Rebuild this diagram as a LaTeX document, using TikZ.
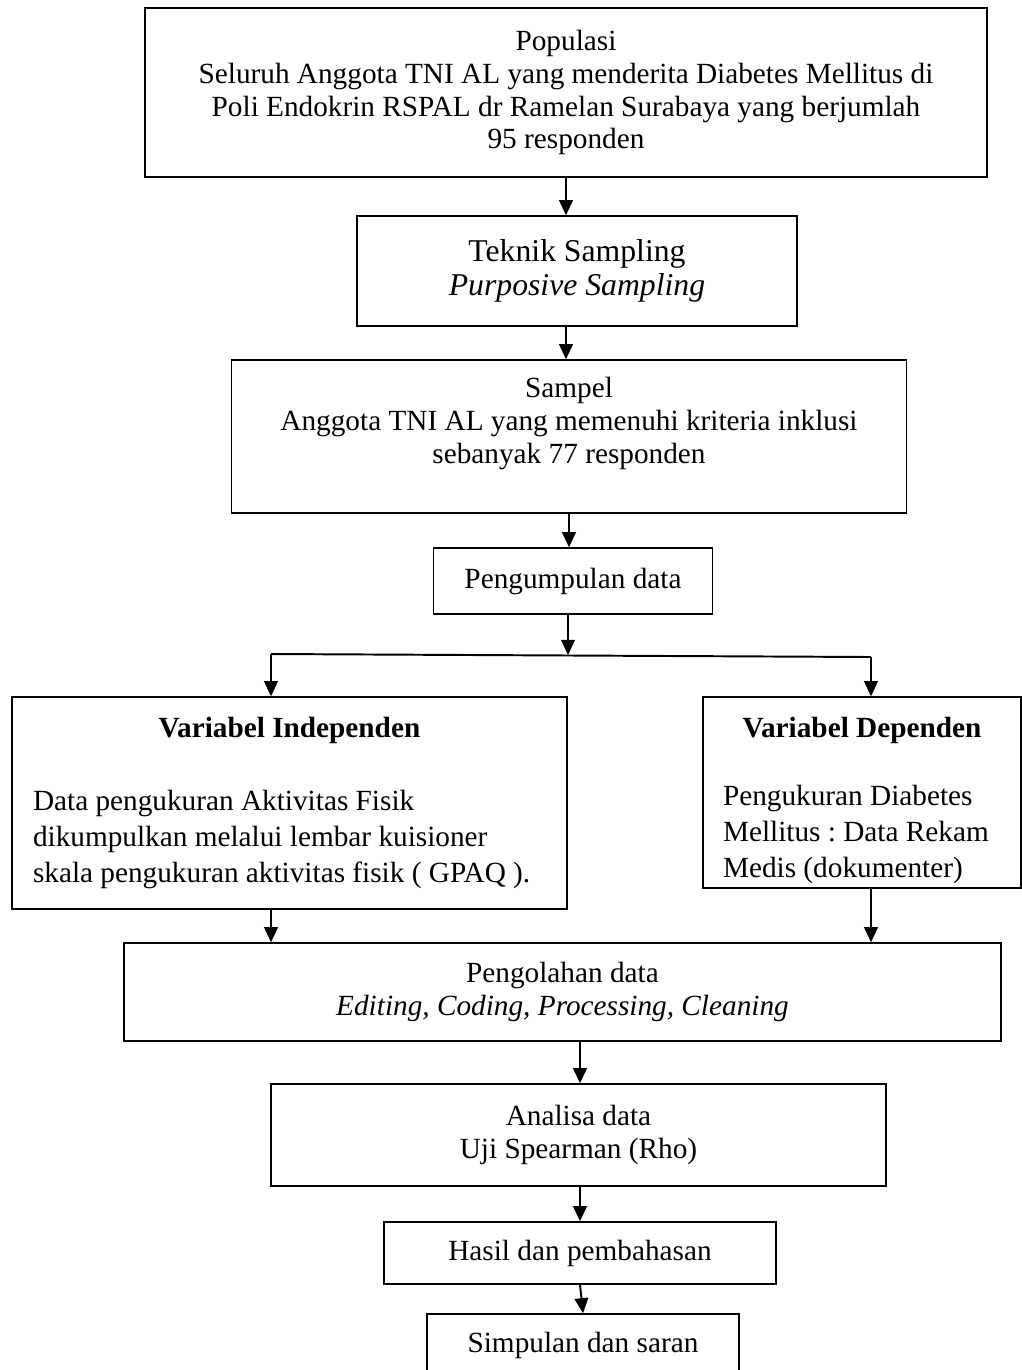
\documentclass[tikz,border=0pt]{standalone}
\usepackage{fontspec}
\setmainfont{Liberation Serif}
\usetikzlibrary{arrows.meta}

\begin{document}
\frenchspacing
\begin{tikzpicture}[x=0.41pt, y=-0.41pt,
  box/.style 2 args={draw, line width=0.6pt, inner sep=0pt, align=center,
    minimum width=#1*0.41pt, minimum height=#2*0.41pt,
    font=\fontsize{12}{13.5}\selectfont},
  varbox/.style={align=flush left, font=\fontsize{12}{14.8}\selectfont},
  arr/.style={-{Triangle[length=6.2pt,width=5.6pt]}, line width=0.8pt}]
\useasboundingbox (0,0) rectangle (1022,1370);
%%%%% Boxes %%%%%
\node[box={842}{169}] (pop) at (566,92.5) {Populasi\\Seluruh Anggota TNI AL yang menderita Diabetes Mellitus di\\Poli Endokrin RSPAL dr Ramelan Surabaya yang berjumlah\\95 responden};
\node[box={440}{110}, font=\fontsize{13}{13.9}\selectfont] (teknik) at (577,271) {Teknik Sampling\\\textit{Purposive Sampling}};
\node[box={675}{153}] (sampel) at (569,436.5) {Sampel\\Anggota TNI AL yang memenuhi kriteria inklusi\\sebanyak 77 responden\\\mbox{}};
\node[box={279}{66}] (kumpul) at (573,581) {Pengumpulan data};
\node[box={555}{212}, varbox, text width=513*0.41pt] (indep) at (289.5,803) {\centerline{\textbf{Variabel Independen}}\vspace{\baselineskip}
Data pengukuran Aktivitas Fisik\\dikumpulkan melalui lembar kuisioner\\skala pengukuran aktivitas fisik ( GPAQ ).};
\node[box={318}{191}, varbox, text width=278*0.41pt] (dep) at (862,792.5) {\centerline{\rule{0pt}{15pt}\textbf{Variabel Dependen}}\vspace{12.8pt}
Pengukuran Diabetes\\Mellitus : Data Rekam\\Medis (dokumenter)};
\node[box={877}{98}] (olah) at (562.5,992) {Pengolahan data\\\textit{Editing, Coding, Processing, Cleaning}};
\node[box={615}{102}] (analisa) at (578.5,1135) {Analisa data\\Uji Spearman (Rho)};
\node[box={392}{62}] (hasil) at (580,1253) {Hasil dan pembahasan};
\node[box={312}{62}] (simpul) at (583,1345) {Simpulan dan saran};
%%%%% Branch %%%%%
\coordinate (split) at (568,655);
\coordinate (bl) at (271,654);
\coordinate (br) at (871,657);
%%%%% Arrows %%%%%
\draw[arr] (pop.south) -- (pop.south |- teknik.north);
\draw[arr] (pop.south |- teknik.south) -- (pop.south |- sampel.north);
\draw[arr] (sampel.south) -- (sampel.south |- kumpul.north);
\draw[arr] (split |- kumpul.south) -- (split);
\draw[line width=0.8pt] (bl) -- (br);
\draw[arr] (bl) -- (bl |- indep.north);
\draw[arr] (br) -- (br |- dep.north);
\draw[arr] (bl |- indep.south) -- (bl |- olah.north);
\draw[arr] (br |- dep.south) -- (br |- olah.north);
\draw[arr] (olah.south -| hasil.north) -- (hasil.north |- analisa.north);
\draw[arr] (analisa.south -| hasil.north) -- (hasil.north);
\draw[arr] (hasil.south) -- (simpul.north);
\end{tikzpicture}
\end{document}
